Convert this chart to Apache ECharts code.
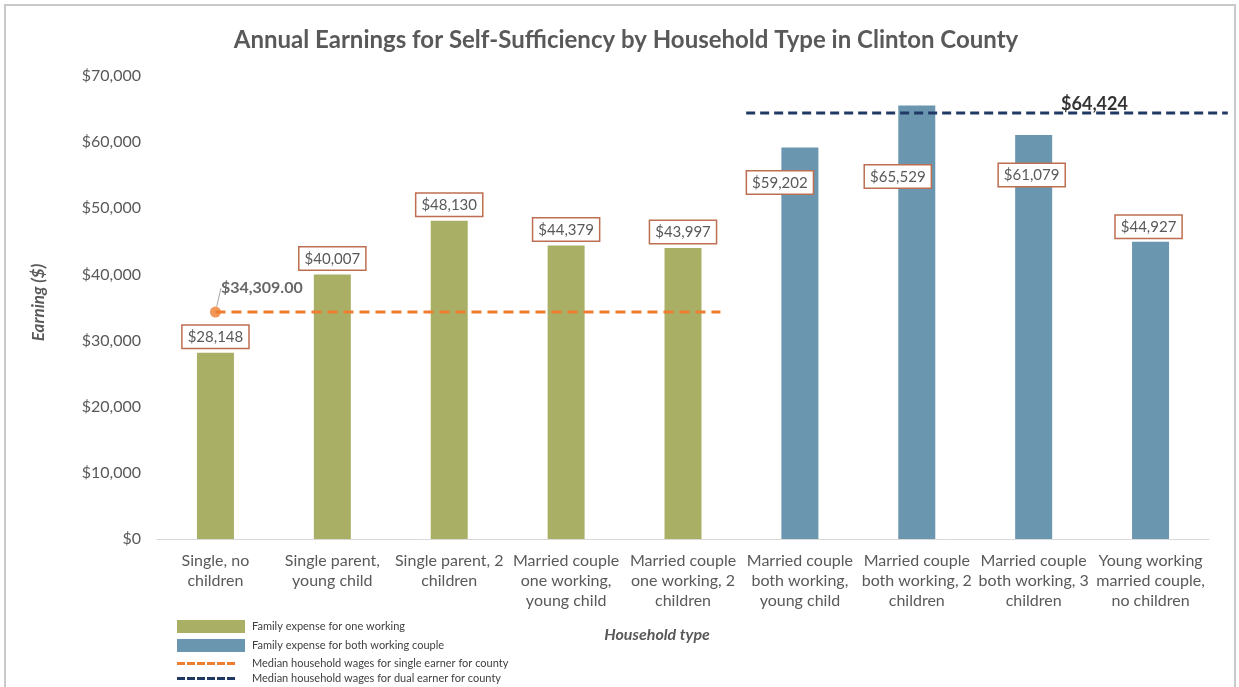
<!DOCTYPE html>
<html><head><meta charset="utf-8">
<script src="https://cdn.jsdelivr.net/npm/echarts@6/dist/echarts.min.js"></script>
<style>html,body{margin:0;padding:0;background:#fff}#c{width:1239px;height:687px}</style>
</head><body><div id="c"></div>
<script>
const categories = ['Single, no\nchildren','Single parent,\nyoung child','Single parent, 2\nchildren','Married couple\none working,\nyoung child','Married couple\none working, 2\nchildren','Married couple\nboth working,\nyoung child','Married couple\nboth working, 2\nchildren','Married couple\nboth working, 3\nchildren','Young working\nmarried couple,\nno children'];
const oneWorking = [28148, 40007, 48130, 44379, 43997, null, null, null, null];
const bothWorking = [null, null, null, null, null, 59202, 65529, 61079, 44927];
const medianSingle = 34309;
const medianDual = 64424;
const yTicks = [0, 10000, 20000, 30000, 40000, 50000, 60000, 70000];

const F = 'Lato, "Open Sans", sans-serif';
const txt = '#595959';
const labelBox = {show:true, position:'top', distance:5, color:txt, fontFamily:F, fontSize:15,
  backgroundColor:'#fff', borderColor:'#BE6E50', borderWidth:1.5, padding:[4,5,3,5],
  formatter: p => '$' + p.value.toLocaleString('en-US')};
// manual label offsets (Excel-moved labels) for the dual-earner bars
const blueOffsets = [null,null,null,null,null,[-20,51],[-19,87],[-2,56],[-2,1]];
const dashIcon = 'path://M0,0h8v3h-8zM10,0h8v3h-8zM20,0h8v3h-8zM30,0h8v3h-8zM40,0h8v3h-8zM50,0h8v3h-8z';

const chart = echarts.init(document.getElementById('c'));
chart.setOption({
  animation:false,
  title:{text:'Annual Earnings for Self-Sufficiency by Household Type in Clinton County', left:621, textAlign:'center', top:23,
    textStyle:{fontFamily:F, fontSize:24, fontWeight:'bold', color:txt}},
  graphic:[{type:'rect', shape:{x:5,y:5,width:1230,height:700}, style:{fill:'none', stroke:'#c9c9c9', lineWidth:2}, silent:true}],
  grid:[{left:157, right:30, top:76, bottom:148},
        {left:157, right:11, top:76, bottom:148}],
  legend:[{orient:'vertical', left:177, top:620, padding:0, itemWidth:68, itemHeight:13, itemGap:6,
      textStyle:{fontFamily:F, fontSize:11, color:'#404040', padding:[0,0,0,2]},
      data:[{name:'Family expense for one working', icon:'rect'},{name:'Family expense for both working couple', icon:'rect'}]},
    {orient:'vertical', left:177, top:658, padding:0, itemWidth:58, itemHeight:3, itemGap:4,
      textStyle:{fontFamily:F, fontSize:11, color:'#404040', padding:[0,0,0,12]},
      data:[{name:'Median household wages for single earner for county', icon:dashIcon},
            {name:'Median household wages for dual earner for county', icon:dashIcon}]}],
  xAxis:[{type:'category', gridIndex:0, data:categories, axisTick:{show:false}, axisLine:{lineStyle:{color:'#D9D9D9'}},
      axisLabel:{fontFamily:F, fontSize:16, color:txt, lineHeight:20, margin:12, interval:0},
      name:'Household type', nameLocation:'middle', nameGap:88,
      nameTextStyle:{fontFamily:F, fontSize:16, fontWeight:'bold', fontStyle:'italic', color:txt, padding:[0,52,0,0]}},
    {type:'value', gridIndex:1, min:-0.5, max:8.662, show:false}],
  yAxis:[{type:'value', gridIndex:0, min:yTicks[0], max:yTicks[yTicks.length-1], interval:10000,
    axisLabel:{fontFamily:F, fontSize:16, color:txt, margin:16, formatter:v=>'$'+v.toLocaleString('en-US')},
    splitLine:{show:false}, axisLine:{show:false}, axisTick:{show:false},
    name:'Earning ($)', nameLocation:'middle', nameGap:110,
    nameTextStyle:{fontFamily:F, fontSize:17, fontWeight:'bold', fontStyle:'italic', color:txt, padding:[0,0,0,10]}},
    {type:'value', gridIndex:1, min:yTicks[0], max:yTicks[yTicks.length-1], show:false}],
  series:[
    {name:'Family expense for one working', type:'bar', data:oneWorking, barWidth:37, barGap:'-100%',
      itemStyle:{color:'#A9B065'}, label:labelBox},
    {name:'Family expense for both working couple', type:'bar', barWidth:37, barGap:'-100%',
      itemStyle:{color:'#6A96B0'},
      data:bothWorking.map((v,i)=> v==null? null : {value:v, label:{offset:blueOffsets[i]}}), label:labelBox},
    {name:'Median household wages for single earner for county', type:'line', xAxisIndex:1, yAxisIndex:1, symbol:'none',
      lineStyle:{color:'#ED7D31', width:3, type:[10,6]}, itemStyle:{color:'#ED7D31'},
      data:[[0, medianSingle],[4.32, medianSingle]]},
    {name:'Median household wages for dual earner for county', type:'line', xAxisIndex:1, yAxisIndex:1, symbol:'none',
      lineStyle:{color:'#1F3864', width:3, type:[9,5]}, itemStyle:{color:'#1F3864'},
      data:[[4.54, medianDual],[8.66, medianDual]]},
    {name:'single-marker', type:'scatter', xAxisIndex:1, yAxisIndex:1, symbolSize:11, itemStyle:{color:'#ED7D31'},
      data:[[0, medianSingle]], z:5,
      label:{show:true, position:'right', fontFamily:F, fontSize:16, fontWeight:'bold', color:'#404040',
        formatter:p=>'$'+p.value[1].toLocaleString('en-US',{minimumFractionDigits:2})},
      labelLayout:{dx:-5, dy:-24}, labelLine:{show:true, lineStyle:{color:'#A6A6A6', width:1}}},
    {name:'dual-label', type:'scatter', xAxisIndex:1, yAxisIndex:1, symbolSize:0, z:10, zlevel:1,
      data:[[7.52, medianDual]],
      label:{show:true, position:'top', distance:0, fontFamily:F, fontSize:18, fontWeight:'bold', color:'#000',
        formatter:p=>'$'+p.value[1].toLocaleString('en-US')}}
  ]
});
</script></body></html>
